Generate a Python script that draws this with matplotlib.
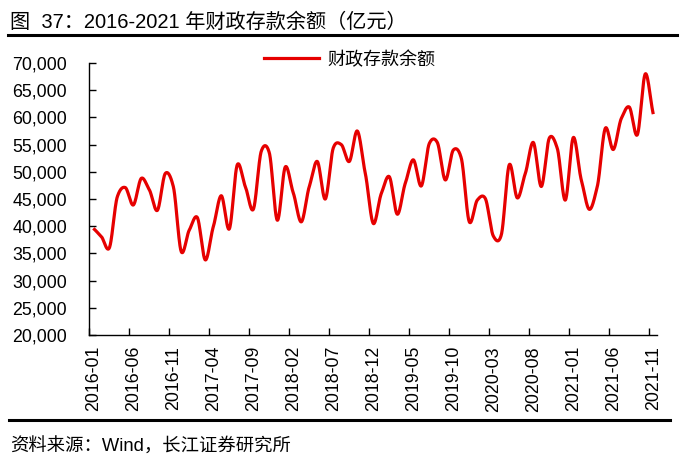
import numpy as np
import matplotlib
matplotlib.use("Agg")
import matplotlib.pyplot as plt
from matplotlib.lines import Line2D

plt.rcParams['font.family'] = ['Liberation Sans', 'Noto Sans CJK SC', 'DejaVu Sans']

months = [f"{y}-{m:02d}" for y in range(2016, 2022) for m in range(1, 13)][:71]

values = [39600, 38100, 36000, 45400, 47100, 43900, 48800, 46700, 42900, 49700,
          47300, 35300, 39300, 41600, 33800, 39900, 45600, 39500, 51300, 47300,
          43100, 53800, 53500, 41100, 50900, 46100, 40800, 47300, 51900, 45000,
          54400, 55000, 51900, 57500, 49700, 40500, 46000, 49100, 42200, 47900,
          52200, 47400, 55200, 55400, 48500, 54000, 52500, 40800, 44800, 45100,
          38200, 38400, 51300, 45200, 49700, 55400, 47300, 56200, 54300, 44800,
          56300, 48500, 43100, 47300, 58000, 54100, 59800, 61900, 56800, 68000,
          60600]

series_name = "财政存款余额"
title = "图  37：2016-2021 年财政存款余额（亿元）"
source = "资料来源：Wind，长江证券研究所"
yticks = [20000, 25000, 30000, 35000, 40000, 45000, 50000, 55000, 60000, 65000, 70000]


def smooth(x, y, n=24, k=0.8):
    x = np.asarray(x, float)
    y = np.asarray(y, float)
    m = np.zeros_like(y)
    m[1:-1] = (y[2:] - y[:-2]) / 2 * k
    m[0] = (y[1] - y[0]) * k
    m[-1] = (y[-1] - y[-2]) * k
    t = np.linspace(0, 1, n, endpoint=False)
    h00 = 2 * t ** 3 - 3 * t ** 2 + 1
    h10 = t ** 3 - 2 * t ** 2 + t
    h01 = -2 * t ** 3 + 3 * t ** 2
    h11 = t ** 3 - t ** 2
    xs, ys = [], []
    for i in range(len(x) - 1):
        xs.append(x[i] + t * (x[i + 1] - x[i]))
        ys.append(h00 * y[i] + h10 * m[i] + h01 * y[i + 1] + h11 * m[i + 1])
    xs.append([x[-1]])
    ys.append([y[-1]])
    return np.concatenate(xs), np.concatenate(ys)


W, H = 691, 466
fig = plt.figure(figsize=(W / 100, H / 100), dpi=100)
left, right, bottom, top = 89.3, 657.3, 335, 63
ax = fig.add_axes([left / W, (H - bottom) / H, (right - left) / W, (bottom - top) / H])

xi = np.arange(len(values))
sx, sy = smooth(xi, values)
ax.plot(sx, sy, color='#E60000', lw=2.3, solid_capstyle='butt')

ax.set_xlim(-0.5, len(values) - 0.5)
ax.set_ylim(20000, 70000)
ax.set_yticks(yticks)
ax.set_yticklabels([f"{v:,}" for v in yticks])

ax.set_xticks(np.arange(-0.5, len(values), 5))
ax.set_xticklabels([])
ax.set_xticks(np.arange(0, len(values), 5), minor=True)
ax.set_xticklabels([months[i] for i in range(0, len(values), 5)], minor=True, rotation=90)

ax.tick_params(axis='x', which='major', direction='in', length=5, width=1, color='black')
ax.tick_params(axis='x', which='minor', length=0, pad=8, labelsize=12.8)
ax.tick_params(axis='y', direction='in', length=5, width=1, labelsize=12.8, pad=16)

for s in ['top', 'right']:
    ax.spines[s].set_visible(False)
for s in ['left', 'bottom']:
    ax.spines[s].set_color('black')
    ax.spines[s].set_linewidth(1)

fig.legend([Line2D([0], [0], color='#E60000', lw=2.3)], [series_name],
           loc='center', bbox_to_anchor=(350 / W, (H - 60) / H), frameon=False,
           fontsize=13, handlelength=3.0, handletextpad=0.5)

fig.text(10 / W, (H - 22) / H, title, fontsize=14.5, va='center', ha='left')
fig.add_artist(Line2D([8 / W, 677 / W], [(H - 35) / H] * 2, color='black', lw=2.2))
fig.add_artist(Line2D([9 / W, 670 / W], [(H - 420) / H] * 2, color='black', lw=2.2))
fig.text(10 / W, (H - 447) / H, source, fontsize=13.2, va='center', ha='left')

fig.savefig("out.png", dpi=100)
